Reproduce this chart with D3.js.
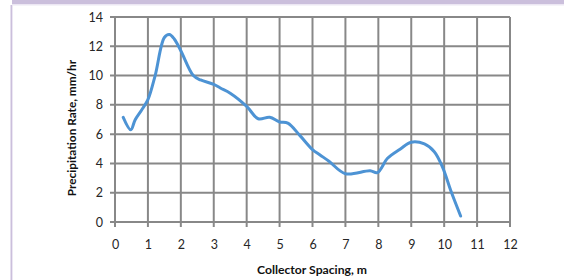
<!DOCTYPE html>
<html><head><meta charset="utf-8">
<script src="https://cdn.jsdelivr.net/npm/d3@7"></script>
<style>body{margin:0;background:#fff;}svg{display:block;}</style>
</head><body>
<svg id="c" width="564" height="280"></svg>
<script>
const xTicks = [0,1,2,3,4,5,6,7,8,9,10,11,12];
const yTicks = [0,2,4,6,8,10,12,14];
const spacing = [0.25,0.48,0.61,0.81,1.0,1.22,1.5,1.65,1.8,2.0,2.38,2.6,3.0,3.2,3.5,4.0,4.35,4.7,5.0,5.25,5.62,6.0,6.23,6.5,7.0,7.75,7.97,8.28,8.66,9.0,9.4,9.7,9.95,10.2,10.5];
const rate    = [7.15,6.3,6.97,7.65,8.35,10.0,12.6,12.8,12.5,11.7,10.0,9.7,9.4,9.15,8.8,7.9,7.05,7.15,6.83,6.75,5.9,4.95,4.58,4.15,3.3,3.5,3.37,4.35,4.97,5.45,5.33,4.8,3.75,2.15,0.41];
const xTitle = "Collector Spacing, m";
const yTitle = "Precipitation Rate, mm/hr";

const svg = d3.select("#c");
const font = "Lato, 'Open Sans', sans-serif";
// frame decorations
svg.append("rect").attr("x",12).attr("y",0).attr("width",552).attr("height",4).attr("fill","#cbbfdc");
svg.append("rect").attr("x",12).attr("y",4).attr("width",552).attr("height",1.5).attr("fill","#ece7f3");
svg.append("rect").attr("x",10.5).attr("y",5).attr("width",1.5).attr("height",275).attr("fill","#cbbfdc");
svg.append("rect").attr("x",12).attr("y",5).attr("width",1).attr("height",275).attr("fill","#ece7f3");

const x = d3.scaleLinear().domain([0,12]).range([115,510]);
const y = d3.scaleLinear().domain([0,14]).range([222,17]);
const grid = "#888888";

const g = svg.append("g");
g.selectAll("line.vx").data(xTicks).join("line")
 .attr("x1",d=>x(d)).attr("x2",d=>x(d)).attr("y1",y(14)).attr("y2",y(0)+5)
 .attr("stroke",grid).attr("stroke-width",2);
g.selectAll("line.hy").data(yTicks).join("line")
 .attr("x1",x(0)-5).attr("x2",x(12)).attr("y1",d=>y(d)).attr("y2",d=>y(d))
 .attr("stroke",grid).attr("stroke-width",2);

const xAxis = svg.append("g").attr("transform",`translate(0,${y(0)})`)
 .call(d3.axisBottom(x).tickValues(xTicks).tickSize(0).tickPadding(18).tickFormat(d3.format("d")));
const yAxis = svg.append("g").attr("transform",`translate(${x(0)},0)`)
 .call(d3.axisLeft(y).tickValues(yTicks).tickSize(0).tickPadding(12).tickFormat(d3.format("d")));
[xAxis,yAxis].forEach(a=>{
  a.select(".domain").remove();
  a.selectAll("text").attr("font-family",font).attr("font-size",12.5).attr("fill","#262626");
});

const line = d3.line().x((d,i)=>x(spacing[i])).y(d=>y(d)).curve(d3.curveCatmullRom.alpha(0.5));
svg.append("path").attr("d",line(rate)).attr("fill","none")
 .attr("stroke","#4d93d4").attr("stroke-width",3).attr("stroke-linejoin","round").attr("stroke-linecap","round");

svg.append("text").attr("x",312).attr("y",274).attr("text-anchor","middle")
 .attr("font-family",font).attr("font-weight","bold").attr("font-size",12.2).attr("fill","#111").text(xTitle);
svg.append("text").attr("transform","translate(76,128) rotate(-90)").attr("text-anchor","middle")
 .attr("font-family",font).attr("font-weight","bold").attr("font-size",11.8).attr("fill","#111").text(yTitle);
</script>
</body></html>
